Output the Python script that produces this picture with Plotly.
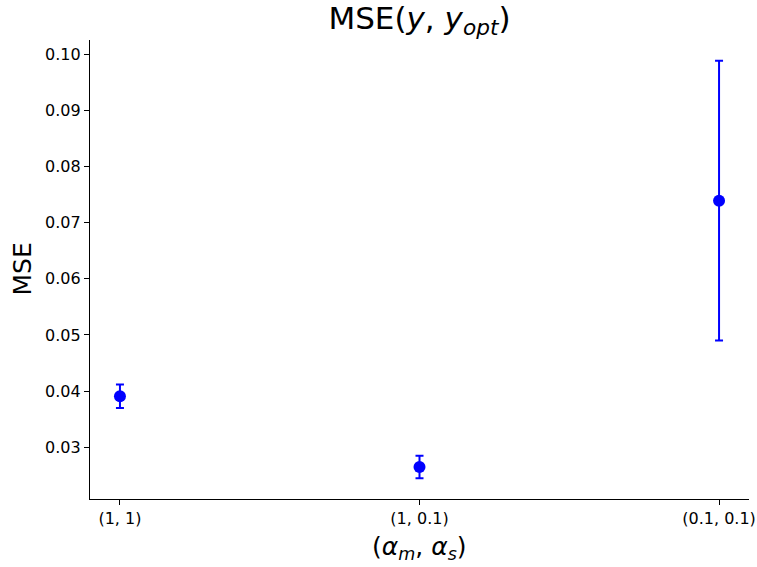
import plotly.graph_objects as go

categories = ["(1, 1)", "(1, 0.1)", "(0.1, 0.1)"]
mse_mean = [0.0391, 0.0265, 0.0739]
mse_err = [0.0021, 0.0020, 0.0249]
y_ticks = [0.03, 0.04, 0.05, 0.06, 0.07, 0.08, 0.09, 0.10]

x_pos = list(range(len(categories)))
FONT = "DejaVu Sans"

fig = go.Figure()
fig.add_trace(go.Scatter(
    x=x_pos, y=mse_mean, mode="markers",
    marker=dict(color="#0000ff", size=12),
    error_y=dict(type="data", array=mse_err, visible=True,
                 color="#0000ff", thickness=2, width=4),
    showlegend=False,
))

fig.update_layout(
    width=757, height=567,
    margin=dict(l=90, r=8, t=40, b=68),
    plot_bgcolor="white", paper_bgcolor="white",
    font=dict(family=FONT, color="black"),
    title=dict(text="MSE(<i>y</i>, <i>y</i><sub><i>opt</i></sub>)",
               x=0.5, xref="paper", xanchor="center",
               y=1 - 18 / 567, yref="container", yanchor="middle",
               font=dict(size=31, family=FONT, color="black")),
    annotations=[
        dict(text="(<i>α</i><sub><i>m</i></sub>, <i>α</i><sub><i>s</i></sub>)",
             x=0.5, xref="paper", y=0, yref="paper", yanchor="middle",
             yshift=-49, showarrow=False, font=dict(size=25, family=FONT)),
        dict(text="MSE", textangle=-90, x=0, xref="paper", xanchor="center",
             xshift=-68, y=0.5, yref="paper", showarrow=False,
             font=dict(size=25, family=FONT)),
    ],
)

fig.update_xaxes(
    range=[-0.1, 2.1], tickvals=x_pos, ticktext=categories,
    showline=True, linecolor="black", linewidth=1.2, mirror=False,
    ticks="outside", ticklen=5, tickwidth=1.2, tickcolor="black",
    showgrid=False, zeroline=False, automargin=False,
    tickfont=dict(size=16, family=FONT, color="black"),
)
fig.update_yaxes(
    range=[0.0208, 0.1025], tickvals=y_ticks, tickformat=".2f",
    showline=True, linecolor="black", linewidth=1.2, mirror=False,
    ticks="outside", ticklen=5, tickwidth=1.2, tickcolor="black",
    showgrid=False, zeroline=False, automargin=False,
    tickfont=dict(size=16, family=FONT, color="black"),
)

fig.write_html("out.html")
